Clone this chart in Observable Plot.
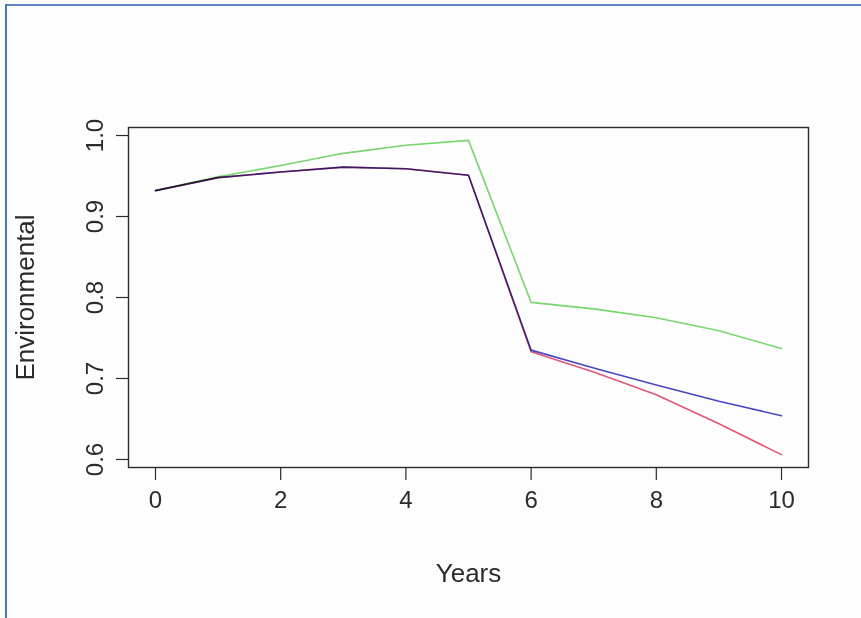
<!DOCTYPE html>
<html>
<head>
<meta charset="utf-8">
<script src="https://cdn.jsdelivr.net/npm/d3@7"></script>
<script src="https://cdn.jsdelivr.net/npm/@observablehq/plot@0.6"></script>
<style>
  html, body { margin: 0; padding: 0; background: #fdfdfd; }
  #wrap { position: relative; width: 861px; height: 618px; overflow: hidden; }
  #wrap svg { position: absolute; left: 0; top: 0; }
  .edge-top { position: absolute; left: 5px; top: 4px; width: 856px; height: 2px; background: #5d86c6; }
  .edge-left { position: absolute; left: 5px; top: 4px; width: 2px; height: 614px; background: #4a76c0; }
</style>
</head>
<body>
<div id="wrap"></div>
<script>
// Years simulated
const years = [0, 1, 2, 3, 4, 5, 6, 7, 8, 9, 10];

// Environmental index for each scenario
const scenarioNames = ["scenario 1", "scenario 2", "scenario 3"];
const greenSeries = [0.932, 0.949, 0.963, 0.978, 0.988, 0.994, 0.794, 0.786, 0.775, 0.759, 0.737];
const blueSeries  = [0.932, 0.948, 0.955, 0.961, 0.959, 0.951, 0.735, 0.713, 0.692, 0.672, 0.654];
const redSeries   = [0.932, 0.948, 0.955, 0.961, 0.959, 0.951, 0.733, 0.708, 0.680, 0.644, 0.606];
const lineColors  = ["#78d86e", "#4848c0", "#e2587a"];

const xTicks = [0, 2, 4, 6, 8, 10];
const yTicks = [0.6, 0.7, 0.8, 0.9, 1.0];
const yTickLabels = ["0.6", "0.7", "0.8", "0.9", "1.0"];

const seriesTable = (values, name) => years.map((t, i) => ({year: t, value: values[i], series: name}));
const rows = [
  ...seriesTable(greenSeries, scenarioNames[0]),
  ...seriesTable(blueSeries, scenarioNames[1]),
  ...seriesTable(redSeries, scenarioNames[2])
];
const yLabelRows = yTicks.map((v, i) => ({value: v, label: yTickLabels[i]}));

const font = "'Liberation Sans', Arial, Helvetica, sans-serif";
const ink = "#2b2b2b";
const fs = 24;
const titleFs = 26;

const chart = Plot.plot({
  width: 861,
  height: 618,
  marginLeft: 128,
  marginRight: 53,
  marginTop: 127,
  marginBottom: 151,
  style: {fontFamily: font, fontSize: fs + "px", background: "transparent", color: ink},
  x: {domain: [-0.431, 10.431], axis: null},
  y: {domain: [0.5901, 1.0099], axis: null},
  color: {type: "ordinal", domain: scenarioNames, range: lineColors},
  marks: [
    Plot.line(rows, {x: "year", y: "value", z: "series", stroke: "series", strokeWidth: 1.6, mixBlendMode: "multiply"}),
    Plot.frame({stroke: ink, strokeWidth: 1.4}),
    // x axis ticks and labels below the box
    Plot.axisX({ticks: xTicks, tickSize: 13, tickPadding: 10, stroke: ink, strokeWidth: 1.2, fontSize: fs, fill: ink, label: null, tickFormat: d => String(d)}),
    // y axis ticks to the left of the box
    Plot.axisY({ticks: yTicks, tickSize: 12, stroke: ink, strokeWidth: 1.2, text: null, label: null}),
    // y tick labels, rotated parallel to the axis
    Plot.text(yLabelRows, {y: "value", text: "label", frameAnchor: "left", dx: -33, rotate: -90, fontSize: fs, fill: ink, textAnchor: "middle", lineAnchor: "middle"}),
    // axis titles
    Plot.text(["Years"], {frameAnchor: "bottom", dy: 106, fontSize: titleFs, fill: ink, textAnchor: "middle", lineAnchor: "middle"}),
    Plot.text(["Environmental"], {frameAnchor: "left", dx: -103, rotate: -90, fontSize: titleFs, fill: ink, textAnchor: "middle", lineAnchor: "middle"})
  ]
});

const wrap = document.getElementById("wrap");
wrap.appendChild(chart);
const edgeTop = document.createElement("div"); edgeTop.className = "edge-top"; wrap.appendChild(edgeTop);
const edgeLeft = document.createElement("div"); edgeLeft.className = "edge-left"; wrap.appendChild(edgeLeft);
</script>
</body>
</html>
